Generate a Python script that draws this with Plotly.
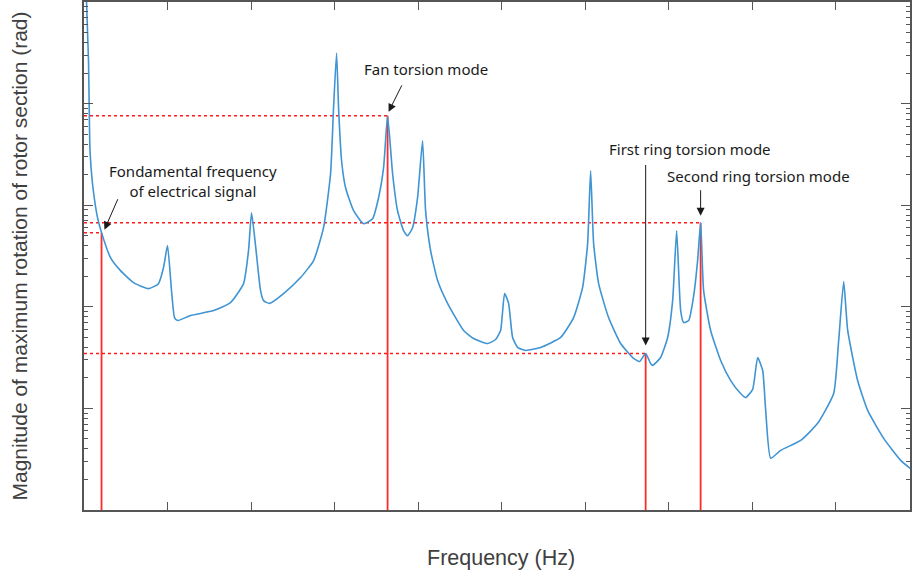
import numpy as np
import plotly.graph_objects as go

# Frequency response (Hz, rad)
freq = [0.30, 0.54, 0.72, 1.02, 1.62, 2.10, 3.17, 4.37, 5.93, 7.72, 8.92, 9.52, 10.00,
        10.48, 10.84, 11.20, 12.75, 15.51, 17.54, 19.10, 19.70, 20.06, 20.54, 21.14, 21.50,
        22.22, 23.89, 25.93, 27.49, 28.68, 29.52, 29.88, 30.24, 30.48, 30.84, 31.32, 32.28,
        33.47, 34.55, 35.27, 35.87, 36.35, 36.95, 37.54, 38.26, 38.74, 39.34, 39.94, 40.54,
        40.90, 41.50, 42.34, 43.53, 45.45, 46.65, 48.32, 49.28, 49.88, 50.36, 50.84, 51.32,
        51.92, 52.87, 54.67, 57.07, 58.62, 59.70, 60.30, 60.66, 61.02, 61.62, 62.81, 64.25,
        65.81, 66.53, 67.25, 67.84, 68.08, 69.04, 69.88, 70.48, 70.96, 71.44, 71.80, 72.40,
        73.00, 73.47, 73.83, 74.19, 75.03, 76.23, 77.43, 78.62, 79.22, 80.06, 80.66, 81.26,
        81.62, 82.22, 83.41, 85.81, 87.84, 89.76, 90.36, 90.96, 91.44, 92.63, 93.83, 95.75,
        97.78, 99.22]
magnitude = [1.02, 0.263, 0.0343, 0.01626, 0.00754, 0.00537, 0.00305, 0.00227, 0.00173,
             0.00151, 0.00169, 0.00243, 0.0040, 0.00144, 0.000784, 0.000732, 0.000820,
             0.000918, 0.00110, 0.00169, 0.00357, 0.00844, 0.0040, 0.00144, 0.00115, 0.00108,
             0.00135, 0.00194, 0.00285, 0.00601, 0.0204, 0.0908, 0.315, 0.0908, 0.0274,
             0.01486, 0.00883, 0.00658, 0.00736, 0.01185, 0.0234, 0.0758, 0.0204, 0.00883,
             0.00561, 0.00501, 0.00601, 0.01185, 0.0431, 0.00883, 0.00357, 0.00181, 0.00108,
             0.000585, 0.000488, 0.000435, 0.000477, 0.000585, 0.00135, 0.00108, 0.000499,
             0.000398, 0.000372, 0.000398, 0.000499, 0.000784, 0.00155, 0.00419, 0.0218,
             0.00419, 0.00169, 0.000784, 0.000435, 0.000310, 0.000290, 0.000347, 0.000277,
             0.000265, 0.000317, 0.000499, 0.00115, 0.00561, 0.000918, 0.000700, 0.000732,
             0.00129, 0.00285, 0.00673, 0.00144, 0.000585, 0.000296, 0.000188, 0.000140,
             0.000128, 0.000154, 0.000317, 0.000236, 0.0000955, 0.0000323, 0.0000386,
             0.0000484, 0.0000713, 0.000140, 0.000466, 0.00177, 0.000585, 0.000188,
             0.0000955, 0.0000507, 0.0000308, 0.0000246]

# Marked modes
mode_names = ["Fondamental frequency<br>of electrical signal", "Fan torsion mode",
              "First ring torsion mode", "Second ring torsion mode"]
mode_freq = [2.10, 36.35, 67.25, 73.83]
mode_mag = [0.00537, 0.0758, 0.000347, 0.00673]

# Label positions (data units) and arrow tips
label_freq = [13.1, 40.9, 72.6, 80.8]
label_mag = [0.0174, 0.22, 0.0359, 0.0195]
tip_freq = [2.45, 36.47, 67.25, 73.83]
tip_mag = [0.00574, 0.083, 0.000416, 0.00788]
arrow_dx = [14, 14, 0, 0]
arrow_dy = [-32, -28, -182, -27]

x_title = "Frequency (Hz)"
y_title = "Magnitude of maximum rotation of rotor section (rad)"

x_range = [0, 98.9]
y_min = 1e-5

fig = go.Figure()

# red guide lines
for f, m in zip(mode_freq, mode_mag):
    fig.add_trace(go.Scatter(x=[0, f], y=[m, m], mode="lines",
                             line=dict(color="#ff1a1a", width=1.5, dash="dot"),
                             hoverinfo="skip", showlegend=False))
    fig.add_trace(go.Scatter(x=[f, f], y=[y_min, m], mode="lines",
                             line=dict(color="#ff2a2a", width=1.8),
                             hoverinfo="skip", showlegend=False))

fig.add_trace(go.Scatter(x=freq, y=magnitude, mode="lines",
                         line=dict(color="#3f94d3", width=1.6, shape="spline", smoothing=0.5),
                         showlegend=False))

font_txt = dict(family="Noto Sans, Open Sans, sans-serif", size=15, color="#1a1a1a")
for name, lf, lm in zip(mode_names, label_freq, label_mag):
    fig.add_annotation(x=lf, y=np.log10(lm), xref="x", yref="y", text=name,
                       showarrow=False, font=font_txt, align="center")
for tf, tm, dx, dy in zip(tip_freq, tip_mag, arrow_dx, arrow_dy):
    fig.add_annotation(x=tf, y=np.log10(tm), xref="x", yref="y", text="",
                       showarrow=True, ax=dx, ay=dy, arrowhead=2, arrowsize=1.6,
                       arrowwidth=1, arrowcolor="#1a1a1a", standoff=0)

fig.add_annotation(x=0.505, y=-0.094, xref="paper", yref="paper", text=x_title,
                   showarrow=False, xanchor="center", yanchor="middle",
                   font=dict(family="Liberation Sans, Arial", size=21.5, color="#404040"))

axis_col = "#555555"
fig.update_layout(
    width=912, height=577,
    margin=dict(l=84, r=0, t=1, b=67),
    paper_bgcolor="white", plot_bgcolor="white",
    xaxis=dict(range=x_range, dtick=10, tick0=0, showticklabels=False,
               ticks="inside", ticklen=8, tickcolor=axis_col, tickwidth=1.2,
               showline=True, linecolor=axis_col, linewidth=1.5, mirror="allticks",
               showgrid=False, zeroline=False),
    yaxis=dict(type="log", range=[-5, 0], dtick=1, showticklabels=False,
               ticks="inside", ticklen=9, tickcolor=axis_col, tickwidth=1.2,
               minor=dict(ticks="inside", ticklen=4, dtick="D1", tickcolor=axis_col, showgrid=False),
               showline=True, linecolor=axis_col, linewidth=1.5, mirror="allticks",
               showgrid=False, zeroline=False,
               title=dict(text=y_title, standoff=49,
                          font=dict(family="Liberation Sans, Arial", size=21, color="#404040"))),
)

fig.write_html("out.html", config={"displayModeBar": False},
               post_script="document.body.style.margin='0';document.body.style.overflow='hidden';")
